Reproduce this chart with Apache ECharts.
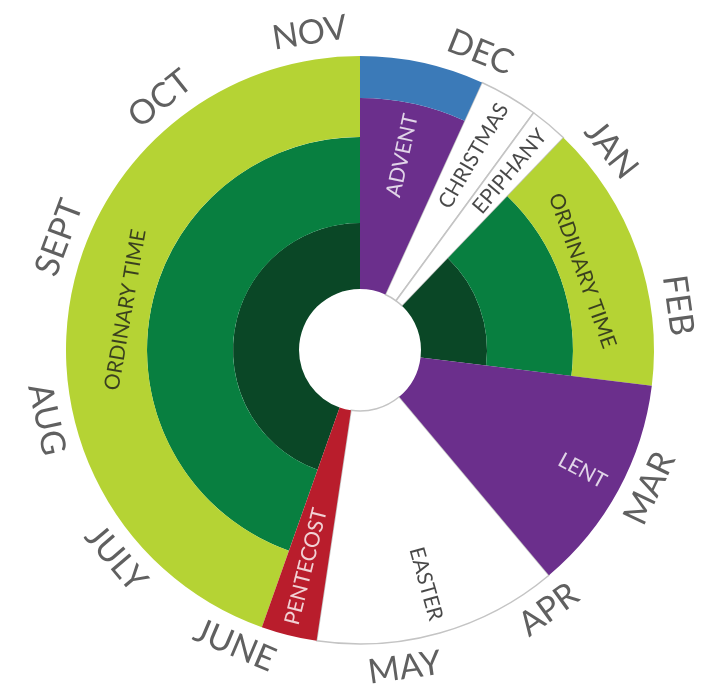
<!DOCTYPE html>
<html>
<head>
<meta charset="utf-8">
<title>Church year wheel</title>
<script src="https://cdn.jsdelivr.net/npm/echarts@6.0.0/dist/echarts.min.js"></script>
<style>
  html, body { margin: 0; padding: 0; background: #fff; }
  #wheel { width: 719px; height: 690px; }
</style>
</head>
<body>
<div id="wheel"></div>
<script>
// seasons, clockwise from the top (first Sunday of Advent)
const seasonNames = ['ADVENT', 'CHRISTMAS', 'EPIPHANY', 'ORDINARY TIME', 'LENT', 'EASTER', 'PENTECOST', 'ORDINARY TIME'];
// share of the wheel for each season, in degrees
const seasonDegrees = [24.5, 11.7, 7.6, 53.2, 43.0, 48.5, 11.0, 160.5];

// month names round the rim and where they sit (degrees clockwise from top)
const monthNames = ['NOV', 'DEC', 'JAN', 'FEB', 'MAR', 'APR', 'MAY', 'JUNE', 'JULY', 'AUG', 'SEPT', 'OCT'];
const monthAngles = [351, 22, 51.5, 82, 115.5, 144, 172, 203, 229.5, 257.5, 290.5, 321.5];

// ---- layout / styles ----
const CENTER = [360, 350];
const R_HOLE = 61, R_OUTER = 294;
const FONT = 'Lato, "Noto Sans", sans-serif';
const PURPLE = '#6b2f8c', BLUE = '#3b7ab8', RED = '#b91d2c';
const GREEN_DARK = '#0a4726', GREEN_MID = '#087f40', GREEN_LIGHT = '#b5d334';
const GREY = '#c4c4c4';

// rings that make up each season: [inner, outer, colour, outlined]
const bands = {
  'ADVENT': [[R_HOLE, 252, PURPLE], [252, R_OUTER, BLUE]],
  'CHRISTMAS': [[R_HOLE, R_OUTER, '#ffffff', true]],
  'EPIPHANY': [[R_HOLE, R_OUTER, '#ffffff', true]],
  'LENT': [[R_HOLE, R_OUTER, PURPLE]],
  'EASTER': [[R_HOLE, R_OUTER, '#ffffff', true]],
  'PENTECOST': [[R_HOLE, R_OUTER, RED]],
  'ORDINARY TIME': [[R_HOLE, 127, GREEN_DARK], [127, 213, GREEN_MID], [213, R_OUTER, GREEN_LIGHT]]
};

// where the season names go
const labelRadius = [199, 225, 233, 236, 253, 243, 223, 238];
const labelTurn = ['out', 'out', 'out', 'tan', 'out', 'out', 'in', 'tan'];
const labelColor = ['#fff', '#1a1a1a', '#1a1a1a', '#1a1a1a', '#fff', '#1a1a1a', '#fff', '#1a1a1a'];

// one pie per ring; seasons without that ring stay transparent
const layerKeys = [];
seasonNames.forEach(n => bands[n].forEach(b => {
  const k = b[0] + '-' + b[1] + '-' + (b[3] ? 1 : 0);
  if (layerKeys.indexOf(k) < 0) layerKeys.push(k);
}));
layerKeys.sort((a, b) => (b.slice(-1) - a.slice(-1)));  // outlined whites first

const pies = layerKeys.map(k => {
  const parts = k.split('-');
  const inner = +parts[0], outer = +parts[1], outlined = parts[2] === '1';
  return {
    type: 'pie',
    center: CENTER,
    radius: [inner, outer],
    startAngle: 90,
    clockwise: true,
    silent: true,
    avoidLabelOverlap: false,
    label: { show: false },
    labelLine: { show: false },
    emphasis: { disabled: true },
    data: seasonNames.map((n, i) => {
      const b = bands[n].find(x => x[0] === inner && x[1] === outer && !!x[3] === outlined);
      return {
        name: n,
        value: seasonDegrees[i],
        itemStyle: b
          ? { color: b[2], borderColor: outlined ? GREY : b[2], borderWidth: outlined ? 1.5 : 0 }
          : { color: 'rgba(0,0,0,0)', borderWidth: 0 }
      };
    })
  };
});

// season label positions from the middle of each season
let acc = 0;
const seasonLabels = seasonNames.map((n, i) => {
  const mid = acc + seasonDegrees[i] / 2;
  acc += seasonDegrees[i];
  let rot = 90 - mid;
  if (labelTurn[i] === 'in') rot = 270 - mid;
  if (labelTurn[i] === 'tan') rot = -mid;
  return {
    name: n,
    value: [labelRadius[i], mid],
    label: { rotate: rot, color: labelColor[i] }
  };
});

const monthLabels = monthNames.map((n, i) => {
  const a = monthAngles[i];
  return {
    name: n,
    value: [321, a],
    label: { rotate: (a > 90 && a < 270) ? 180 - a : -a }
  };
});

const textSeries = (data, size, color) => ({
  type: 'scatter',
  coordinateSystem: 'polar',
  symbolSize: 1,
  silent: true,
  itemStyle: { color: 'rgba(0,0,0,0)' },
  label: {
    show: true,
    position: 'inside',
    formatter: p => p.name,
    fontFamily: FONT,
    fontSize: size,
    color: color,
    align: 'center',
    verticalAlign: 'middle'
  },
  data: data
});

const chart = echarts.init(document.getElementById('wheel'));
chart.setOption({
  backgroundColor: '#fff',
  animation: false,
  polar: { center: CENTER, radius: 340 },
  radiusAxis: { type: 'value', min: 0, max: 340, show: false },
  angleAxis: { type: 'value', min: 0, max: 360, startAngle: 90, clockwise: true, show: false },
  series: pies.concat([
    textSeries(seasonLabels, 21, '#1a1a1a'),
    textSeries(monthLabels, 34, '#383838')
  ])
});
</script>
</body>
</html>
